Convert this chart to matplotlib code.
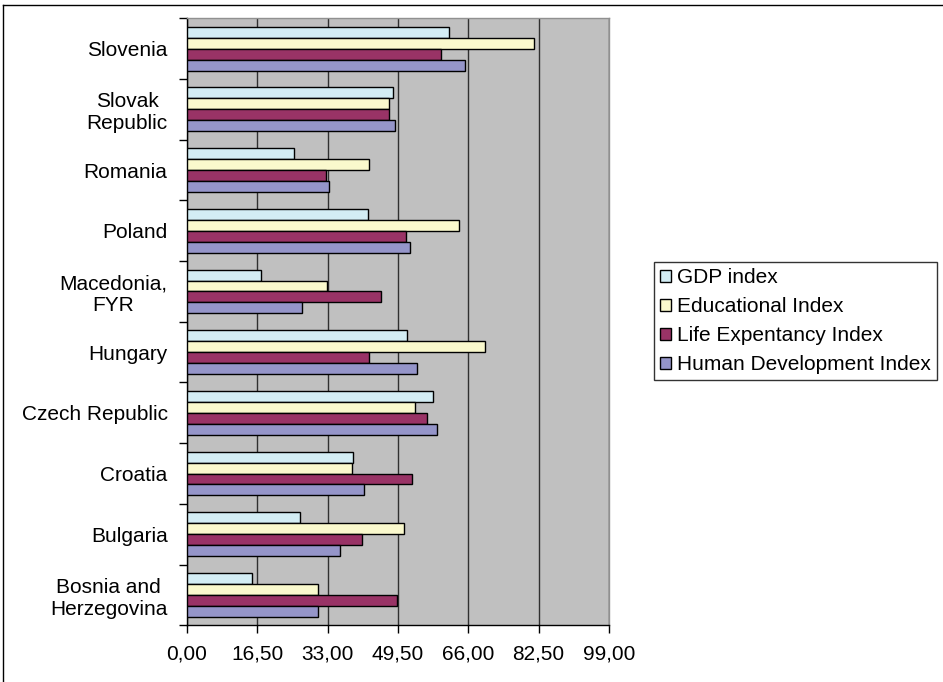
import numpy as np
import matplotlib.pyplot as plt
from matplotlib.lines import Line2D

plt.rcParams['font.family'] = ['Liberation Sans', 'DejaVu Sans']

# data (bottom to top, as drawn)
countries = ['Bosnia and\nHerzegovina', 'Bulgaria', 'Croatia', 'Czech Republic', 'Hungary',
             'Macedonia,\nFYR', 'Poland', 'Romania', 'Slovak\nRepublic', 'Slovenia']
gdp = [15.2, 26.6, 39.0, 57.7, 51.7, 17.4, 42.4, 25.1, 48.4, 61.5]
edu = [30.7, 51.0, 38.7, 53.6, 69.8, 32.9, 63.7, 42.8, 47.5, 81.5]
life = [49.2, 41.0, 52.9, 56.4, 42.8, 45.4, 51.3, 32.6, 47.3, 59.5]
hdi = [30.7, 35.9, 41.5, 58.6, 53.9, 27.0, 52.3, 33.3, 48.8, 65.3]

series = [('GDP index', gdp, '#D3EDF4'),
          ('Educational Index', edu, '#FAF9CD'),
          ('Life Expentancy Index', life, '#993366'),
          ('Human Development Index', hdi, '#9595C9')]
xticks = np.arange(0, 99.01, 16.5)

fig = plt.figure(figsize=(9.43, 6.82), dpi=100)
ax = fig.add_axes([187/943, 1-625.3/682, (609-187)/943, (625.3-18.3)/682])
ax.set_facecolor('#C0C0C0')

y = np.arange(len(countries))
h = 0.18
# top bar in each group is GDP
offsets = [1.5*h, 0.5*h, -0.5*h, -1.5*h]
for (name, vals, col), off in zip(series, offsets):
    ax.barh(y + off, vals, height=h, color=col, edgecolor='black', linewidth=1.0,
            label=name, zorder=3)

ax.set_xlim(0, 99)
ax.set_ylim(-0.5, len(countries) - 0.5)
ax.set_xticks(xticks)
ax.set_xticklabels([f'{v:.2f}'.replace('.', ',') for v in xticks], fontsize=15)
ax.xaxis.grid(True, color='#303030', linewidth=1.0, zorder=1)
ax.tick_params(axis='x', length=6, width=1, pad=8)

ax.set_yticks(y)
ax.set_yticklabels(countries, fontsize=15, multialignment='center')
ax.set_yticks(np.arange(-0.5, len(countries), 1), minor=True)
ax.tick_params(axis='y', which='major', length=0, pad=14)
ax.tick_params(axis='y', which='minor', length=6, width=1)

for s in ['left', 'bottom']:
    ax.spines[s].set_color('black')
    ax.spines[s].set_linewidth(1.0)
for s in ['top', 'right']:
    ax.spines[s].set_color('#909090')
    ax.spines[s].set_linewidth(1.0)

leg = ax.legend(loc='center left', bbox_to_anchor=(654/943, 1-321/682),
                bbox_transform=fig.transFigure, fontsize=15, frameon=True,
                fancybox=False, edgecolor='black', handlelength=0.5, handleheight=0.5,
                handletextpad=0.3, labelspacing=0.48, borderpad=0.3, borderaxespad=0)
leg.get_frame().set_linewidth(1.0)

# outer chart border (left and top visible)
fig.add_artist(Line2D([3/943, 3/943], [0, 1-5/682], color='black', lw=1.0))
fig.add_artist(Line2D([3/943, 1], [1-5/682, 1-5/682], color='black', lw=1.0))

fig.savefig('out.png', dpi=100)
